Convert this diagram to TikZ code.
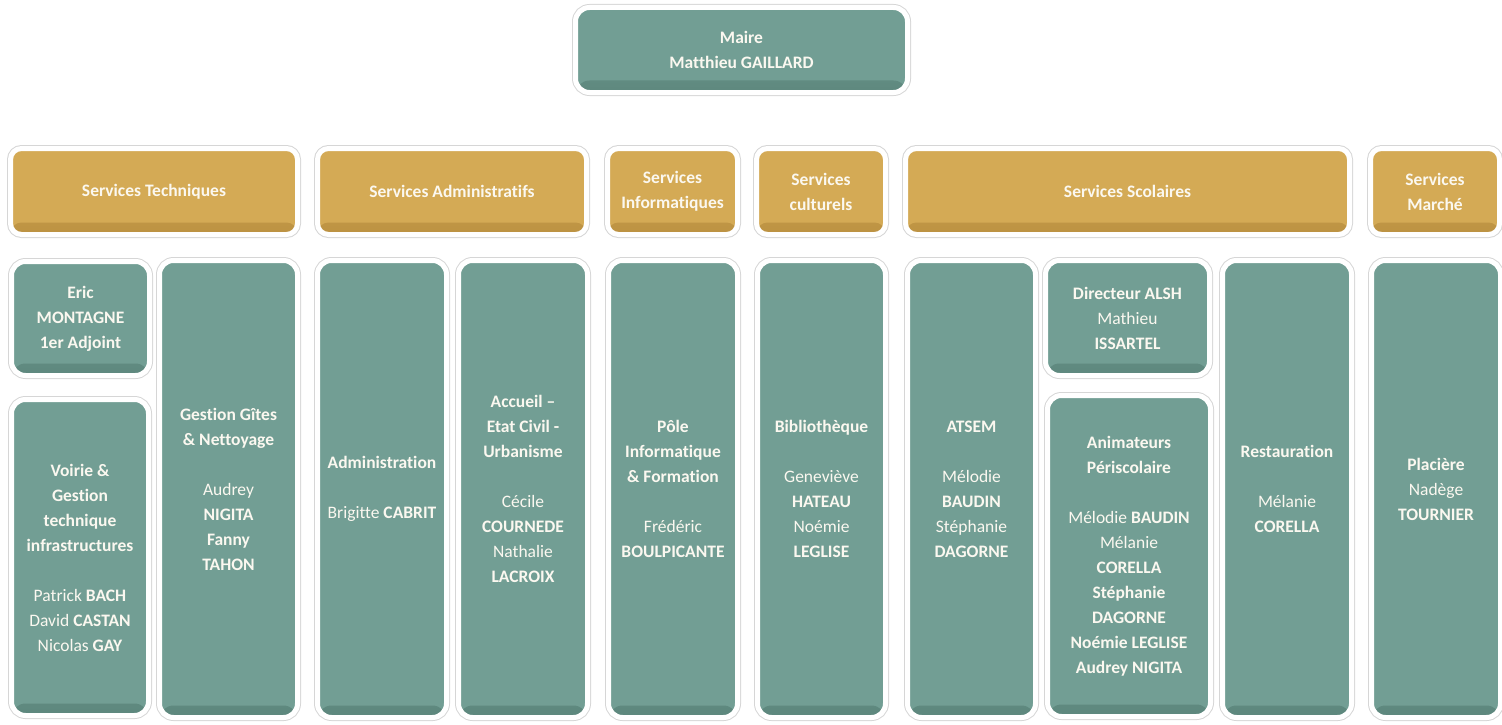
\documentclass[tikz,border=0pt]{standalone}
\usepackage{fontspec}
\setmainfont{Carlito}[Ligatures=NoCommon]
\definecolor{boxteal}{HTML}{729E94}
\definecolor{tealdark}{HTML}{5E887E}
\definecolor{boxgold}{HTML}{D4AA55}
\definecolor{golddark}{HTML}{BC9242}
\definecolor{rimgray}{HTML}{D6D6D6}
\definecolor{txtwhite}{HTML}{FBF8F0}
\begin{document}
\begin{tikzpicture}[x=1pt,y=-1pt,
    cadre/.style={rectangle, inner sep=0pt, align=center, text=txtwhite,
      font=\fontsize{17.5}{25}\selectfont, rounded corners=14pt,
      preaction={draw=rimgray, line width=7pt}, draw=white, line width=5pt},
    poste/.style={cadre, fill=boxteal,
      path picture={\shade[top color=boxteal, bottom color=tealdark]
        ([yshift=12pt]path picture bounding box.south west) rectangle (path picture bounding box.south east);}},
    service/.style={cadre, fill=boxgold, rounded corners=11pt, font=\fontsize{17.5}{25}\selectfont\bfseries,
      path picture={\shade[top color=boxgold, bottom color=golddark]
        ([yshift=12pt]path picture bounding box.south west) rectangle (path picture bounding box.south east);}}]
  \useasboundingbox (0,0) rectangle (1502,725);

  % Maire
  \node[poste, minimum width=332pt, minimum height=85pt] (maire) at (741.5,50) {\textbf{Maire}\\\textbf{Matthieu GAILLARD}};

  % Services
  \node[service, minimum width=287pt, minimum height=86pt] (tech) at (154,191.5) {Services Techniques};
  \node[service, minimum width=269pt, minimum height=86pt] (admin) at (452,191.5) {Services Administratifs};
  \node[service, minimum width=130pt, minimum height=86pt] (info) at (672.5,191.5) {Services\\Informatiques};
  \node[service, minimum width=129pt, minimum height=86pt] (cult) at (821,191.5) {Services\\culturels};
  \node[service, minimum width=444pt, minimum height=86pt] (scol) at (1127.5,191.5) {Services Scolaires};
  \node[service, minimum width=129pt, minimum height=86pt] (marche) at (1435,191.5) {Services\\Marché};

  % Services Techniques
  \node[poste, minimum width=138pt, minimum height=114pt] (eric) at (80.5,318.5) {\textbf{Eric}\\\textbf{MONTAGNE}\\\textbf{1er Adjoint}};
  \node[poste, minimum width=137pt, minimum height=316pt] (voirie) at (80,557.5)
    {\textbf{Voirie \&}\\\textbf{Gestion}\\\textbf{technique}\\\textbf{infrastructures}\\[25pt]
     Patrick \textbf{BACH}\\David \textbf{CASTAN}\\Nicolas \textbf{GAY}};
  \node[poste, minimum width=138pt, minimum height=457pt] (gites) at (228.5,489)
    {\textbf{Gestion Gîtes}\\\textbf{\& Nettoyage}\\[25pt]Audrey\\\textbf{NIGITA}\\\textbf{Fanny}\\\textbf{TAHON}};

  % Services Administratifs
  \node[poste, minimum width=129pt, minimum height=457pt] (administration) at (382,489)
    {\textbf{Administration}\\[25pt]Brigitte \textbf{CABRIT}};
  \node[poste, minimum width=129pt, minimum height=457pt] (accueil) at (523,489)
    {\textbf{Accueil –}\\\textbf{Etat Civil -}\\\textbf{Urbanisme}\\[25pt]Cécile\\\textbf{COURNEDE}\\Nathalie\\\textbf{LACROIX}};

  % Informatique et culture
  \node[poste, minimum width=129pt, minimum height=457pt] (pole) at (673,489)
    {\textbf{Pôle}\\\textbf{Informatique}\\\textbf{\& Formation}\\[25pt]Frédéric\\\textbf{BOULPICANTE}};
  \node[poste, minimum width=128pt, minimum height=457pt] (biblio) at (821.5,489)
    {\textbf{Bibliothèque}\\[25pt]Geneviève\\\textbf{HATEAU}\\Noémie\\\textbf{LEGLISE}};

  % Services Scolaires
  \node[poste, minimum width=128pt, minimum height=457pt] (atsem) at (971.5,489)
    {\textbf{ATSEM}\\[25pt]Mélodie\\\textbf{BAUDIN}\\Stéphanie\\\textbf{DAGORNE}};
  \node[poste, minimum width=164pt, minimum height=115pt] (alsh) at (1127.5,318)
    {\textbf{Directeur ALSH}\\Mathieu\\\textbf{ISSARTEL}};
  \node[poste, minimum width=163pt, minimum height=321pt] (anim) at (1129,556)
    {\textbf{Animateurs}\\\textbf{Périscolaire}\\[25pt]Mélodie \textbf{BAUDIN}\\Mélanie\\\textbf{CORELLA}\\\textbf{Stéphanie}\\\textbf{DAGORNE}\\\textbf{Noémie LEGLISE}\\\textbf{Audrey NIGITA}};
  \node[poste, minimum width=129pt, minimum height=457pt] (resto) at (1287,489)
    {\textbf{Restauration}\\[25pt]Mélanie\\\textbf{CORELLA}};

  % Marché
  \node[poste, minimum width=129pt, minimum height=457pt] (placiere) at (1436,489)
    {\textbf{Placière}\\Nadège\\\textbf{TOURNIER}};
\end{tikzpicture}
\end{document}
